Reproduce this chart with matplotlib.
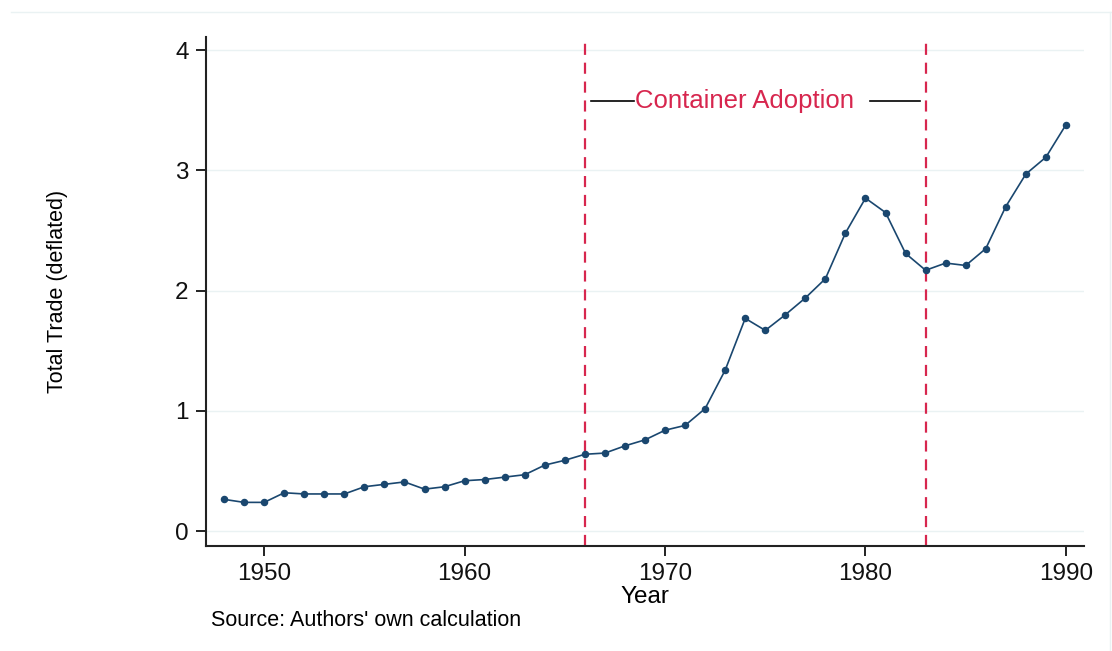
import matplotlib
matplotlib.use("Agg")
import matplotlib.pyplot as plt
from matplotlib.lines import Line2D

years = list(range(1948, 1991))
trade = [0.265, 0.24, 0.24, 0.32, 0.31, 0.31, 0.31, 0.37, 0.39, 0.41,
         0.35, 0.37, 0.42, 0.43, 0.45, 0.47, 0.55, 0.59, 0.64, 0.65,
         0.71, 0.76, 0.84, 0.88, 1.02, 1.34, 1.77, 1.67, 1.80, 1.94,
         2.10, 2.48, 2.77, 2.65, 2.31, 2.17, 2.23, 2.21, 2.35, 2.70,
         2.97, 3.11, 3.38]
x_ticks = [1950, 1960, 1970, 1980, 1990]
y_ticks = [0, 1, 2, 3, 4]
event_years = [1966, 1983]
annot_text = "Container Adoption"

plt.rcParams['font.family'] = ['Liberation Sans', 'DejaVu Sans']

fig = plt.figure(figsize=(11.12, 6.51), dpi=100)
ax = fig.add_axes([0.1853, 0.1618, 0.9748 - 0.1853, 0.9432 - 0.1618])

# faint outer frame lines (top and right)
fig.add_artist(Line2D([11 / 1112, 1.0], [1 - 12 / 651, 1 - 12 / 651],
                      transform=fig.transFigure, color='#eaf2f3', lw=1.0))
fig.add_artist(Line2D([1110 / 1112, 1110 / 1112], [1 - 12 / 651, 0.0],
                      transform=fig.transFigure, color='#eaf2f3', lw=1.0))

ax.plot(years, trade, color='#1a476f', lw=1.2, marker='o', ms=4.4,
        markerfacecolor='#1a476f', markeredgecolor='#1a476f', zorder=3)

for ey in event_years:
    ax.axvline(ey, color='#d7264e', lw=1.6, ls=(0, (5, 3.5)), zorder=2)

ax.set_xlim(1947.1, 1990.9)
ax.set_ylim(-0.12, 4.11)
ax.set_xticks(x_ticks)
ax.set_yticks(y_ticks)
ax.tick_params(axis='both', labelsize=17.5, length=7.5, width=1.3, direction='out', colors='#111111')
ax.tick_params(axis='x', pad=5)
ax.tick_params(axis='y', pad=5)

ax.grid(axis='y', color='#eaf2f3', lw=1.0, zorder=0)
ax.set_axisbelow(True)
for s in ['top', 'right']:
    ax.spines[s].set_visible(False)
for s in ['left', 'bottom']:
    ax.spines[s].set_linewidth(1.5)
    ax.spines[s].set_color('#222222')

# Annotation
y_ann = 3.575
ax.text(1968.5, y_ann, annot_text, color='#d7264e', fontsize=18.5, va='center', ha='left')
ax.plot([1966.3, 1968.45], [y_ann, y_ann], color='black', lw=1.2)
ax.plot([1980.22, 1982.71], [y_ann, y_ann], color='black', lw=1.2)

ax.set_xlabel('Year', fontsize=17.5, labelpad=1)
ax.set_ylabel('Total Trade (deflated)', fontsize=15.5)
ax.yaxis.set_label_coords(-0.157, 0.5)

fig.text(211 / 1112, 1 - 621 / 651, "Source: Authors' own calculation", fontsize=15.5, va='center', ha='left')

fig.savefig('out.png', dpi=100)
